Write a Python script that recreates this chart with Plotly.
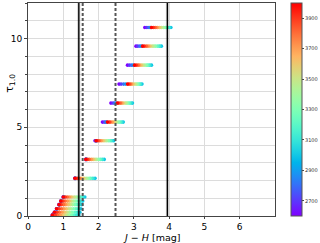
import numpy as np
import plotly.graph_objects as go

# Temperatures (K) of the points in every row
temps = [2600, 2700, 2800, 2900, 3000, 3100, 3200, 3300, 3400, 3500, 3600, 3700, 3800, 3900, 4000]

# tau_1.0 value of each row
tau_rows = [0.06, 0.21, 0.41, 0.64, 0.84, 1.07,
            2.12, 3.19, 4.24, 5.29, 6.36, 7.43, 8.50, 9.57, 10.62]

# J-H colour of every point, one list per row (same order as temps)
jh_rows = [
    [0.69, 0.69, 0.70, 0.71, 1.44, 1.37, 1.29, 1.22, 1.14, 1.07, 0.99, 0.92, 0.84, 0.77, 0.69],
    [0.75, 0.75, 0.76, 0.77, 1.47, 1.40, 1.33, 1.25, 1.18, 1.11, 1.04, 0.97, 0.89, 0.82, 0.75],
    [0.81, 0.81, 0.82, 0.83, 1.50, 1.43, 1.36, 1.29, 1.22, 1.16, 1.09, 1.02, 0.95, 0.88, 0.81],
    [0.88, 0.88, 0.89, 0.90, 1.52, 1.46, 1.39, 1.33, 1.26, 1.20, 1.14, 1.07, 1.01, 0.94, 0.88],
    [0.93, 0.93, 0.94, 0.95, 1.55, 1.49, 1.43, 1.36, 1.30, 1.24, 1.18, 1.12, 1.05, 0.99, 0.93],
    [1.00, 1.00, 1.01, 1.02, 1.61, 1.55, 1.49, 1.43, 1.37, 1.31, 1.24, 1.18, 1.12, 1.06, 1.00],
    [1.33, 1.33, 1.34, 1.35, 1.90, 1.84, 1.78, 1.73, 1.67, 1.61, 1.56, 1.50, 1.44, 1.39, 1.33],
    [1.64, 1.64, 1.65, 1.66, 2.16, 2.11, 2.06, 2.01, 1.95, 1.90, 1.85, 1.80, 1.74, 1.69, 1.64],
    [1.90, 1.92, 1.93, 1.95, 2.43, 2.38, 2.33, 2.28, 2.23, 2.18, 2.13, 2.08, 2.03, 1.98, 1.93],
    [2.11, 2.16, 2.20, 2.23, 2.70, 2.66, 2.61, 2.57, 2.52, 2.48, 2.43, 2.39, 2.34, 2.30, 2.25],
    [2.35, 2.41, 2.46, 2.50, 2.96, 2.92, 2.87, 2.83, 2.79, 2.75, 2.70, 2.66, 2.62, 2.57, 2.53],
    [2.58, 2.64, 2.71, 2.77, 3.23, 3.19, 3.15, 3.11, 3.07, 3.03, 2.98, 2.94, 2.90, 2.86, 2.82],
    [2.82, 2.88, 2.94, 2.99, 3.50, 3.45, 3.40, 3.36, 3.31, 3.26, 3.21, 3.16, 3.12, 3.07, 3.02],
    [3.06, 3.11, 3.17, 3.22, 3.78, 3.73, 3.68, 3.62, 3.57, 3.52, 3.46, 3.41, 3.36, 3.30, 3.25],
    [3.31, 3.37, 3.43, 3.47, 4.05, 4.00, 3.94, 3.89, 3.84, 3.78, 3.73, 3.67, 3.62, 3.56, 3.50],
]

# Vertical reference lines (J-H)
solid_lines = [1.44, 3.95]
dashed_lines = [1.55, 2.48]

x_ticks = [0, 1, 2, 3, 4, 5, 6]
y_ticks = [0, 5, 10]
cbar_ticks = [2700, 2900, 3100, 3300, 3500, 3700, 3900]

# matplotlib "rainbow" colormap
def rainbow(v):
    r = min(1.0, abs(2 * v - 0.5))
    g = np.sin(np.pi * v)
    b = np.cos(np.pi * v / 2)
    return f"rgb({int(r*255)},{int(g*255)},{int(max(b,0)*255)})"

cs = [[s, rainbow(s)] for s in np.linspace(0, 1, 21)]

xs, ys, cs_vals = [], [], []
for tau, row in zip(tau_rows, jh_rows):
    for t, x in zip(temps, row):
        xs.append(x)
        ys.append(tau)
        cs_vals.append(t)

fig = go.Figure()

for xv in solid_lines:
    fig.add_shape(type="line", x0=xv, x1=xv, y0=0, y1=1, yref="y domain",
                  line=dict(color="rgba(0,0,0,0.22)", width=3), layer="above")
    fig.add_shape(type="line", x0=xv, x1=xv, y0=0, y1=1, yref="y domain",
                  line=dict(color="black", width=1.3), layer="above")
for xv in dashed_lines:
    fig.add_shape(type="line", x0=xv, x1=xv, y0=0, y1=1, yref="y domain",
                  line=dict(color="#555555", width=2, dash="3px,2px"), layer="above")

PL, PW = 28, 247  # plot left, width in px

fig.add_trace(go.Scatter(
    x=xs, y=ys, mode="markers",
    marker=dict(size=3.6, color=cs_vals, colorscale=cs, cmin=2600, cmax=4000,
                line=dict(width=0),
                colorbar=dict(x=(290.7 - PL) / PW, xanchor="left", xpad=0,
                              y=0.5, yanchor="middle", ypad=0, len=1, lenmode="fraction",
                              thickness=11, outlinewidth=1, outlinecolor="#555555",
                              tickvals=cbar_ticks, ticks="outside", ticklen=2,
                              tickfont=dict(size=5, family="DejaVu Sans", color="#333333"))),
    cliponaxis=True, showlegend=False, hoverinfo="skip",
))

fig.update_layout(
    width=320, height=243,
    margin=dict(l=PL, r=320 - PL - PW, t=3, b=27, autoexpand=False),
    paper_bgcolor="white", plot_bgcolor="white",
    font=dict(family="DejaVu Sans", size=10, color="black"),
    xaxis=dict(range=[0, 7], tickvals=x_ticks, showgrid=True, gridcolor="#dcdcdc", gridwidth=1,
               zeroline=False, showline=True, linecolor="#444444", mirror=True, automargin=False,
               ticks="outside", ticklen=2, tickcolor="#444444", tickfont=dict(size=9)),
    yaxis=dict(range=[0, 12], tickvals=y_ticks, showgrid=True, gridcolor="#dcdcdc", gridwidth=1,
               minor=dict(dtick=1, showgrid=True, gridcolor="#dcdcdc", ticks="outside", ticklen=2),
               zeroline=False, showline=True, linecolor="#444444", mirror=True, automargin=False,
               ticks="outside", ticklen=3, tickcolor="#444444", tickfont=dict(size=9)),
    annotations=[
        dict(text="<i>J</i> − <i>H</i> [mag]", xref="paper", yref="paper",
             x=0.5, y=-(237 - 216) / 212.7, xanchor="center", yanchor="middle",
             showarrow=False, font=dict(size=9.5)),
        dict(text="τ<sub>1.0</sub>", xref="paper", yref="paper",
             x=(10 - PL) / PW, y=(216 - 84) / 212.7, xanchor="center", yanchor="middle",
             textangle=-90, showarrow=False, font=dict(size=11)),
    ],
)

fig.write_html("out.html", config={"displayModeBar": False},
               post_script="document.body.style.margin='0';")
